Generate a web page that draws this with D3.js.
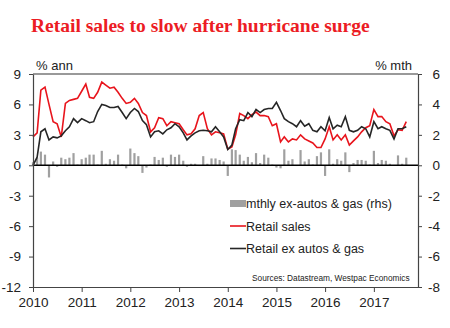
<!DOCTYPE html>
<html lang="en">
<head>
    <meta charset="UTF-8">
    <title>Retail sales</title>
    <script src="https://d3js.org/d3.v7.min.js"></script>
    <style>
        body { margin: 0; background: #fff; }
        text { font-family: Arial, "Liberation Sans", sans-serif; }
    </style>
</head>
<body>
<div id="main"></div>
<script>
    // monthly series, Jan 2010 - Sep 2017
    const retailSales = [
        2.8, 3.2, 7.4, 7.7, 6.0, 4.3, 4.1, 2.8, 6.1, 6.4, 6.5, 6.6,
        7.3, 8.0, 6.7, 6.6, 7.2, 8.2, 7.9, 7.6, 7.7, 7.2, 6.6, 6.1,
        6.2, 6.6, 6.1, 5.2, 4.9, 3.3, 3.7, 4.7, 4.6, 3.9, 4.3, 4.2,
        4.1, 3.5, 3.0, 3.1, 3.6, 4.9, 5.2, 3.6, 3.0, 3.3, 3.2, 3.1,
        1.6, 1.8, 3.0, 5.1, 4.9, 4.6, 5.0, 5.25, 4.9, 4.9, 4.8, 3.9,
        4.1, 2.3, 2.8, 2.3, 2.6, 2.5, 3.0, 2.6, 2.4, 2.2, 1.75, 1.75,
        2.6, 3.8, 2.5, 3.0, 2.5, 3.0, 2.0, 2.4, 2.8, 3.3, 3.7, 3.9,
        5.5, 4.8, 4.8, 4.3, 4.1, 2.9, 3.5, 3.45, 4.3
    ]
    const retailExAutosGas = [
        0.0, 0.8, 3.3, 3.6, 2.5, 2.8, 2.7, 2.9, 3.4, 3.8, 4.6, 4.2,
        4.6, 4.4, 4.2, 4.3, 5.3, 6.0, 5.9, 5.7, 5.7, 5.8, 5.2, 4.6,
        5.2, 5.6, 5.3, 4.4, 4.0, 2.8, 3.3, 3.4, 3.1, 3.5, 3.7, 4.1,
        3.8, 3.2, 2.5, 2.9, 3.2, 3.4, 3.45, 3.4, 3.3, 3.8, 3.3, 2.8,
        1.55, 2.0, 3.6, 4.5, 4.4, 5.2, 4.8, 5.5, 5.2, 5.5, 5.6, 5.6,
        6.2, 5.4, 4.6, 4.3, 4.1, 3.8, 4.4, 3.85, 4.1, 3.45, 3.3, 3.8,
        3.4, 4.7, 3.6, 3.95, 3.8, 4.8, 3.45, 3.3, 3.45, 3.8, 3.6, 2.8,
        4.3, 3.6, 3.8, 3.6, 3.45, 2.6, 3.6, 3.6, 3.8
    ]
    // % mth, plotted on the right axis
    const mthlyExAutosGas = [
        0.2, 0.5, 0.9, 0.7, -0.8, 0.25, -0.1, 0.5, 0.4, 0.5, 0.8, 0.05,
        0.4, 0.5, 0.7, 0.7, 0.05, 0.95, 0.1, 0.4, 0.3, 0.7, 0.05, -0.2,
        1.1, 0.8, 0.6, -0.5, -0.15, 0.05, 0.55, 0.35, 0.5, -0.1, 0.7, 0.55,
        0.7, 0.3, -0.1, 0.1, 0.1, -0.05, 0.6, 0.1, 0.45, 0.45, 0.35, 0.25,
        -0.7, 1.05, 1.0, 0.7, 0.3, 0.55, 0.2, 0.8, 0.15, 0.7, 0.5, 0.05,
        -0.15, -0.2, 1.05, 0.3, 0.4, -0.05, 1.0, 0.25, 0.4, 0.05, 0.6, 0.85,
        -0.7, 1.05, 0.1, 0.4, 0.3, 0.85, -0.45, 0.15, 0.35, 0.35, 0.3, 0.05,
        0.95, 0.15, 0.35, 0.3, 0.1, 0.02, 0.65, 0.1, 0.5
    ]

    const years = ["2010", "2011", "2012", "2013", "2014", "2015", "2016", "2017"]
    const leftTicks = [9, 6, 3, 0, -3, -6, -9, -12]
    const rightTicks = [6, 4, 2, 0, -2, -4, -6, -8]
    const legendLabels = ["mthly ex-autos & gas (rhs)", "Retail sales", "Retail ex autos & gas"]

    let width = 450, height = 328
    let plot = {left: 33, right: 418, top: 74, bottom: 287}
    let textColor = "#222"

    let svg = d3.select("#main")
        .append("svg")
        .attr("width", width)
        .attr("height", height)

    let months = retailSales.map((d, i) => new Date(2010, i, 1))

    let XScale = d3.scaleTime()
        .domain([new Date(2010, 0, 1), new Date(2017, 10, 28)])
        .range([plot.left, plot.right])

    let YLeft = d3.scaleLinear().domain([-12, 9]).range([plot.bottom, plot.top])
    let YRight = d3.scaleLinear().domain([-8, 6]).range([plot.bottom, plot.top])

    // plain hyphen for negatives
    let plainNum = d => String(d)

    // title
    let title = svg.append("text")
        .attr("x", 31)
        .attr("y", 32)
        .style("font-family", "'Times New Roman', 'Liberation Serif', serif")
        .style("font-weight", "bold")
        .style("font-size", "20px")
        .attr("fill", "#ec1c24")
        .text("Retail sales to slow after hurricane surge")
    let tw = title.node().getComputedTextLength()
    title.style("font-size", (20 * 339 / tw) + "px")

    // unit labels
    svg.append("text").attr("x", 36).attr("y", 70)
        .style("font-size", "13px").attr("fill", textColor).text("% ann")
    svg.append("text").attr("x", 412).attr("y", 70).attr("text-anchor", "end")
        .style("font-size", "13px").attr("fill", textColor).text("% mth")

    // top frame line
    svg.append("line")
        .attr("x1", plot.left).attr("x2", plot.right)
        .attr("y1", plot.top).attr("y2", plot.top)
        .attr("stroke", "#999").attr("stroke-width", 2)

    // monthly bars
    svg.append("g").selectAll("rect")
        .data(mthlyExAutosGas)
        .enter()
        .append("rect")
        .attr("x", (d, i) => XScale(months[i]) - 1.1)
        .attr("width", 2.2)
        .attr("y", d => Math.min(YRight(d), YRight(0)))
        .attr("height", d => Math.abs(YRight(d) - YRight(0)))
        .attr("fill", "#a0a0a0")

    // zero line
    svg.append("line")
        .attr("x1", plot.left).attr("x2", plot.right)
        .attr("y1", YLeft(0)).attr("y2", YLeft(0))
        .attr("stroke", "#000").attr("stroke-width", 1.5)

    let line = d3.line()
        .x((d, i) => XScale(months[i]))
        .y(d => YLeft(d))

    svg.append("path")
        .attr("d", line(retailSales))
        .attr("fill", "none")
        .attr("stroke", "#e8141c")
        .attr("stroke-width", 1.6)

    svg.append("path")
        .attr("d", line(retailExAutosGas))
        .attr("fill", "none")
        .attr("stroke", "#262626")
        .attr("stroke-width", 1.6)

    // axes
    let styleAxis = g => {
        g.select(".domain").attr("stroke", "#444").attr("stroke-width", 1.2)
        g.selectAll(".tick line").attr("stroke", "#444")
        g.selectAll("text").style("font-size", "13.5px").attr("fill", textColor)
    }

    svg.append("g")
        .attr("transform", `translate(${plot.left}, 0)`)
        .call(d3.axisLeft(YLeft).tickValues(leftTicks).tickFormat(plainNum)
            .tickSize(4).tickSizeOuter(0).tickPadding(8))
        .call(styleAxis)

    svg.append("g")
        .attr("transform", `translate(${plot.right}, 0)`)
        .call(d3.axisRight(YRight).tickValues(rightTicks).tickFormat(plainNum)
            .tickSize(4).tickSizeOuter(0))
        .call(styleAxis)
        .selectAll("text")
        .attr("text-anchor", "end")
        .attr("x", 22)

    svg.append("g")
        .attr("transform", `translate(0, ${plot.bottom})`)
        .call(d3.axisBottom(XScale)
            .tickValues(years.map(y => new Date(+y, 0, 1)))
            .tickFormat(d3.timeFormat("%Y"))
            .tickSize(5).tickSizeOuter(0).tickPadding(5))
        .call(styleAxis)

    // legend
    let legend = svg.append("g").attr("transform", "translate(230, 0)")
    let rowY = [203.5, 226, 248.5]

    legend.append("rect")
        .attr("x", 0).attr("y", rowY[0] - 3.5)
        .attr("width", 16).attr("height", 7)
        .attr("fill", "#a0a0a0")
    legend.append("line")
        .attr("x1", 0).attr("x2", 16).attr("y1", rowY[1]).attr("y2", rowY[1])
        .attr("stroke", "#e8141c").attr("stroke-width", 1.6)
    legend.append("line")
        .attr("x1", 0).attr("x2", 16).attr("y1", rowY[2]).attr("y2", rowY[2])
        .attr("stroke", "#262626").attr("stroke-width", 1.6)

    legend.selectAll("text.lbl")
        .data(legendLabels)
        .enter()
        .append("text")
        .attr("class", "lbl")
        .attr("x", 16)
        .attr("y", (d, i) => rowY[i] + 4.5)
        .style("font-size", "12.5px")
        .attr("fill", textColor)
        .text(d => d)

    svg.append("text")
        .attr("x", 252)
        .attr("y", 281)
        .style("font-size", "8.3px")
        .attr("fill", textColor)
        .text("Sources: Datastream, Westpac Economics")
</script>
</body>
</html>
